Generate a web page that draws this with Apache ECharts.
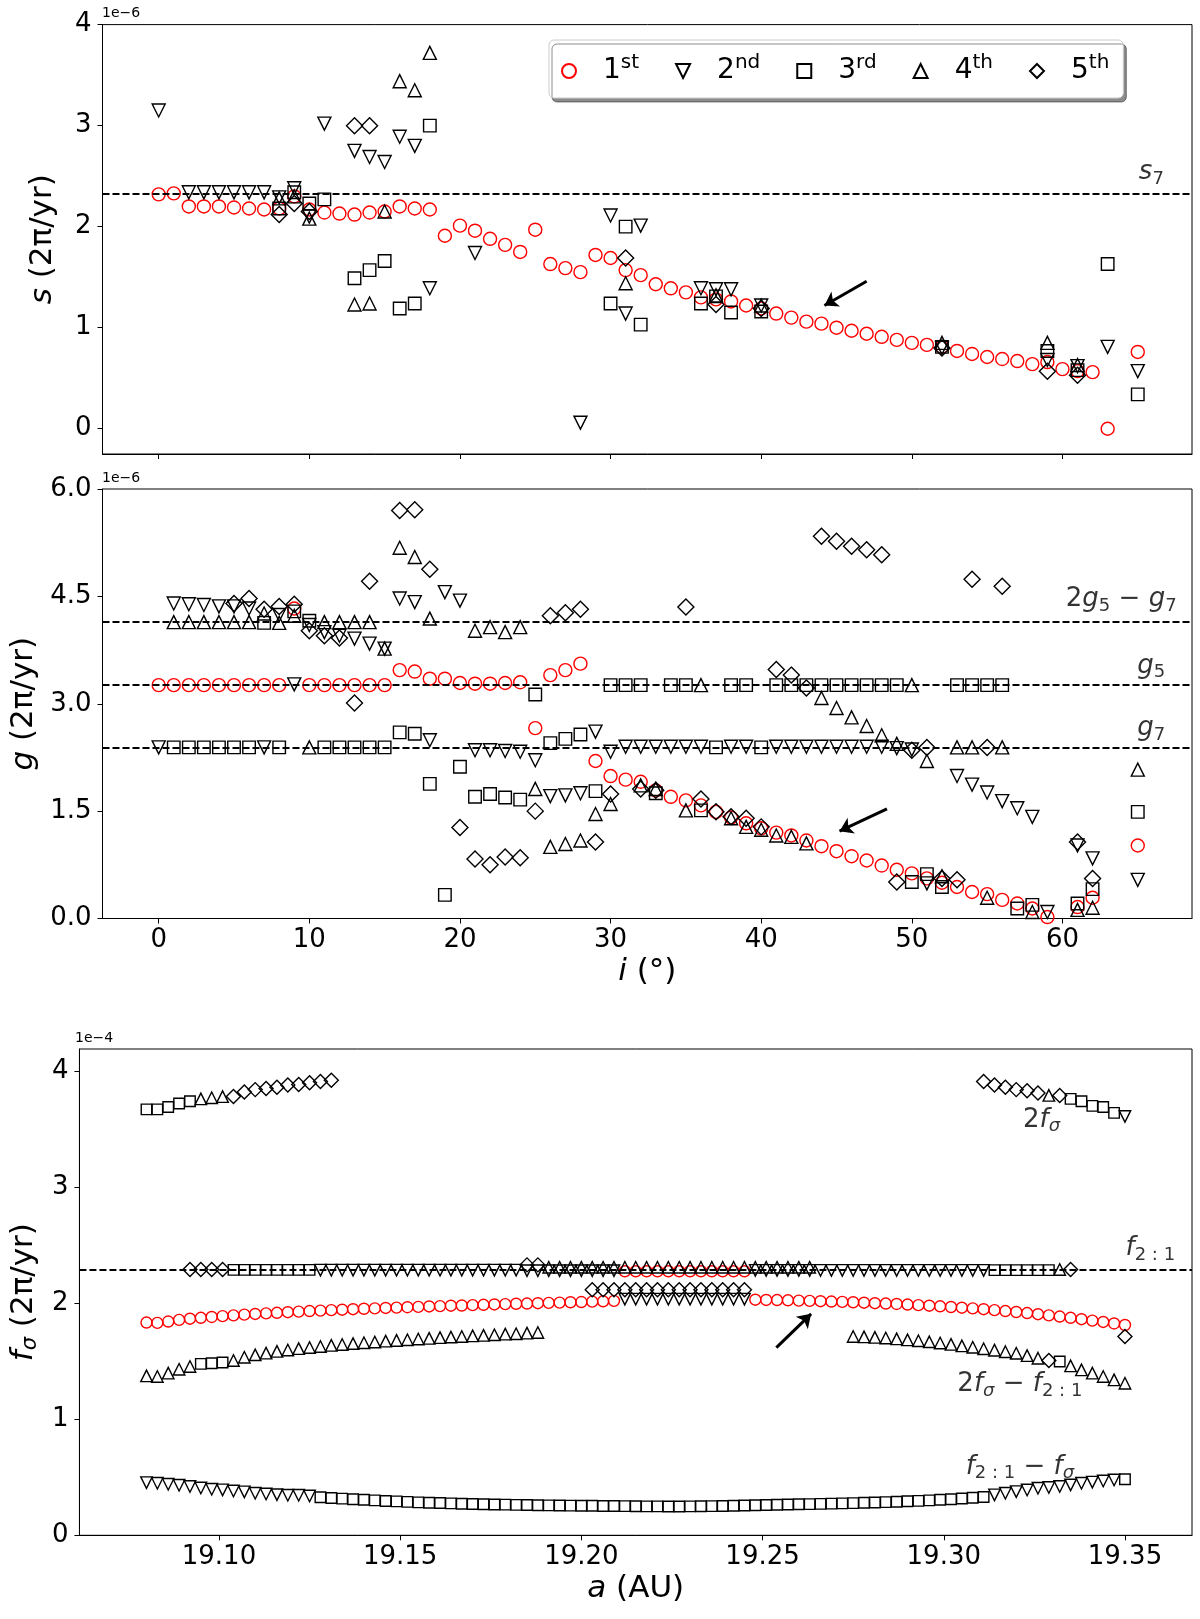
<!DOCTYPE html>
<html>
<head>
<meta charset="utf-8">
<script src="https://cdn.jsdelivr.net/npm/echarts@6.0.0/dist/echarts.min.js"></script>
<style>
  html, body { margin: 0; padding: 0; background: #fff; }
  #main { width: 1200px; height: 1619px; }
</style>
</head>
<body>
<div id="main"></div>
<script>
// ---- data: s-frequencies (units 1e-6) vs inclination i (deg) ----
var s1 = [[0,2.32],[1,2.33],[2,2.20],[3,2.20],[4,2.20],[5,2.19],[6,2.18],[7,2.17],[8,2.18],[9,2.30],[10,2.17],[11,2.14],[12,2.13],[13,2.12],[14,2.14],[15,2.15],[16,2.20],[17,2.18],[18,2.17],[19,1.91],[20,2.01],[21,1.96],[22,1.88],[23,1.82],[24,1.75],[25,1.97],[26,1.63],[27,1.59],[28,1.55],[29,1.72],[30,1.69],[31,1.57],[32,1.52],[33,1.43],[34,1.39],[35,1.35],[36,1.30],[37,1.28],[38,1.26],[39,1.22],[40,1.19],[41,1.14],[42,1.10],[43,1.06],[44,1.04],[45,1.00],[46,0.97],[47,0.94],[48,0.91],[49,0.88],[50,0.85],[51,0.83],[52,0.81],[53,0.77],[54,0.74],[55,0.71],[56,0.69],[57,0.67],[58,0.64],[59,0.66],[60,0.59],[61,0.57],[62,0.56],[63,0.00],[65,0.76]];
var s2 = [[0,3.15],[2,2.34],[3,2.34],[4,2.34],[5,2.34],[6,2.34],[7,2.34],[8,2.29],[9,2.38],[10,2.10],[11,3.02],[13,2.75],[14,2.69],[15,2.64],[16,2.89],[17,2.80],[18,1.39],[21,1.74],[28,0.06],[30,2.11],[31,1.14],[32,2.01],[36,1.39],[37,1.38],[38,1.38],[40,1.22],[52,0.80],[59,0.68],[61,0.62],[63,0.81],[65,0.57]];
var s3 = [[8,2.18],[9,2.34],[10,2.23],[11,2.27],[13,1.49],[14,1.57],[15,1.66],[16,1.19],[17,1.24],[18,3.00],[30,1.24],[31,2.00],[32,1.03],[36,1.24],[37,1.31],[38,1.15],[40,1.16],[52,0.81],[59,0.77],[61,0.58],[63,1.63],[65,0.34]];
var s4 = [[8,2.28],[9,2.30],[10,2.08],[13,1.23],[14,1.24],[15,2.15],[16,3.44],[17,3.35],[18,3.72],[31,1.44],[37,1.32],[40,1.22],[52,0.85],[59,0.85],[61,0.63]];
var s5 = [[8,2.12],[9,2.23],[10,2.15],[13,3.00],[14,3.00],[31,1.69],[37,1.23],[40,1.19],[52,0.80],[59,0.57],[61,0.53]];

// ---- data: g-frequencies (units 1e-6) vs inclination i (deg) ----
var g1 = [[0,3.26],[1,3.26],[2,3.26],[3,3.26],[4,3.26],[5,3.26],[6,3.26],[7,3.26],[8,3.26],[9,4.33],[10,3.26],[11,3.26],[12,3.26],[13,3.26],[14,3.26],[15,3.26],[16,3.47],[17,3.45],[18,3.35],[19,3.35],[20,3.29],[21,3.28],[22,3.28],[23,3.29],[24,3.30],[25,2.66],[26,3.40],[27,3.47],[28,3.56],[29,2.20],[30,1.99],[31,1.94],[32,1.91],[33,1.79],[34,1.70],[35,1.65],[36,1.58],[37,1.49],[38,1.41],[39,1.33],[40,1.26],[41,1.20],[42,1.16],[43,1.09],[44,1.01],[45,0.94],[46,0.87],[47,0.81],[48,0.74],[49,0.68],[50,0.63],[51,0.56],[52,0.50],[53,0.44],[54,0.37],[55,0.34],[56,0.26],[57,0.21],[58,0.14],[59,0.02],[61,0.16],[62,0.29],[65,1.02]];
var g2 = [[0,2.39],[1,4.40],[2,4.39],[3,4.38],[4,4.36],[5,4.36],[6,4.33],[7,2.39],[8,4.24],[9,3.27],[10,4.10],[11,4.00],[12,3.95],[13,3.91],[14,3.84],[15,3.77],[16,4.47],[17,4.42],[18,2.49],[19,4.56],[20,4.44],[21,2.35],[22,2.35],[23,2.34],[24,2.33],[25,2.21],[26,1.71],[27,1.72],[28,1.75],[29,2.61],[30,2.33],[31,2.40],[32,2.40],[33,2.40],[34,2.40],[35,2.40],[36,2.40],[38,2.40],[39,2.40],[41,2.40],[42,2.40],[43,2.40],[44,2.40],[45,2.40],[46,2.40],[47,2.40],[48,2.40],[49,2.38],[50,2.36],[51,0.49],[53,1.99],[54,1.87],[55,1.76],[56,1.64],[57,1.54],[58,1.42],[59,0.09],[61,1.02],[62,0.84],[65,0.54]];
var g3 = [[1,2.39],[2,2.39],[3,2.39],[4,2.39],[5,2.39],[6,2.39],[7,4.13],[8,2.39],[9,4.29],[10,4.16],[11,2.39],[12,2.39],[13,2.39],[14,2.39],[15,2.39],[16,2.60],[17,2.58],[18,1.88],[19,0.33],[20,2.12],[21,1.70],[22,1.74],[23,1.69],[24,1.66],[25,3.13],[26,2.45],[27,2.51],[28,2.57],[29,1.78],[30,3.26],[31,3.26],[32,3.26],[33,1.75],[34,3.26],[35,3.26],[36,1.51],[37,2.39],[38,3.26],[39,3.26],[40,2.39],[41,3.26],[42,3.26],[43,3.26],[44,3.26],[45,3.26],[46,3.26],[47,3.26],[48,3.26],[49,3.26],[50,0.51],[51,0.62],[52,0.44],[53,3.26],[54,3.26],[55,3.26],[56,3.26],[57,0.14],[58,0.19],[61,0.21],[62,0.41],[65,1.49]];
var g4 = [[1,4.14],[2,4.14],[3,4.14],[4,4.14],[5,4.14],[6,4.14],[7,4.26],[8,4.13],[9,4.23],[10,2.39],[11,4.14],[12,4.14],[13,4.14],[14,4.14],[15,3.77],[16,5.18],[17,5.05],[18,4.19],[21,4.02],[22,4.07],[23,4.00],[24,4.07],[25,1.81],[26,1.00],[27,1.04],[28,1.09],[29,1.46],[30,1.60],[32,1.86],[33,1.81],[35,1.51],[36,3.26],[38,1.40],[39,1.28],[40,1.24],[41,1.16],[42,1.14],[43,1.05],[44,3.08],[45,2.94],[46,2.81],[47,2.69],[48,2.56],[49,2.44],[50,3.26],[51,2.20],[52,0.59],[53,2.39],[54,2.39],[55,0.29],[56,2.39],[58,0.09],[61,0.12],[62,0.15],[65,2.08]];
var g5 = [[5,4.40],[6,4.47],[7,4.32],[8,4.36],[9,4.39],[10,4.02],[11,3.95],[12,3.92],[13,3.01],[14,4.71],[16,5.70],[17,5.71],[18,4.88],[20,1.27],[21,0.83],[22,0.75],[23,0.86],[24,0.85],[25,1.50],[26,4.23],[27,4.27],[28,4.32],[29,1.07],[30,1.74],[32,1.81],[33,1.79],[35,4.35],[36,1.67],[37,1.49],[38,1.42],[39,1.40],[40,1.28],[41,3.48],[42,3.40],[43,3.22],[44,5.34],[45,5.27],[46,5.20],[47,5.15],[48,5.08],[49,0.51],[50,2.35],[51,2.39],[52,0.56],[53,0.54],[54,4.74],[55,2.39],[56,4.64],[61,1.07],[62,0.56]];

// ---- data: f_sigma frequencies (units 1e-4) vs semi-major axis a (AU) ----
var aGrid = [19.080,19.083,19.086,19.089,19.092,19.095,19.098,19.101,19.104,19.107,
  19.110,19.113,19.116,19.119,19.122,19.125,19.128,19.131,19.134,19.137,
  19.140,19.143,19.146,19.149,19.152,19.155,19.158,19.161,19.164,19.167,
  19.170,19.173,19.176,19.179,19.182,19.185,19.188,19.191,19.194,19.197,
  19.200,19.203,19.206,19.209,19.212,19.215,19.218,19.221,19.224,19.227,
  19.230,19.233,19.236,19.239,19.242,19.245,19.248,19.251,19.254,19.257,
  19.260,19.263,19.266,19.269,19.272,19.275,19.278,19.281,19.284,19.287,
  19.290,19.293,19.296,19.299,19.302,19.305,19.308,19.311,19.314,19.317,
  19.320,19.323,19.326,19.329,19.332,19.335,19.338,19.341,19.344,19.347,
  19.350];
var f1 = [1.833,1.830,1.842,1.856,1.866,1.874,1.881,1.888,1.895,1.901,
  1.907,1.912,1.917,1.922,1.927,1.932,1.936,1.940,1.944,1.948,
  1.952,1.955,1.959,1.962,1.965,1.968,1.972,1.975,1.978,1.980,
  1.983,1.986,1.989,1.992,1.995,1.997,2.000,2.003,2.005,2.008,
  2.010,2.013,2.016,2.020,2.275,2.275,2.275,2.275,2.275,2.275,
  2.275,2.275,2.275,2.275,2.275,2.275,2.030,2.028,2.027,2.025,
  2.022,2.020,2.017,2.014,2.011,2.008,2.004,2.000,1.997,1.993,
  1.988,1.983,1.978,1.973,1.967,1.961,1.955,1.948,1.940,1.932,
  1.924,1.915,1.905,1.895,1.885,1.874,1.862,1.850,1.838,1.825,
  1.812];
var f2 = [0.454,0.448,0.440,0.431,0.420,0.408,0.397,0.391,0.382,0.374,
  0.362,0.356,0.350,0.345,0.345,0.339,2.285,2.285,2.285,2.285,
  2.285,2.285,2.285,2.285,2.285,2.285,2.285,2.285,2.285,2.285,
  2.285,2.285,2.285,2.285,2.285,2.280,2.280,2.280,2.280,2.280,
  2.280,2.280,2.280,2.280,2.035,2.035,2.035,2.035,2.035,2.035,
  2.035,2.035,2.035,2.035,2.035,2.035,2.283,2.283,2.283,2.283,
  2.283,2.283,2.283,2.283,2.283,2.283,2.283,2.283,2.283,2.283,
  2.283,2.283,2.283,2.283,2.283,2.283,2.283,2.283,0.348,0.362,
  0.376,0.390,0.405,0.412,0.420,0.434,0.448,0.458,0.468,0.477,
  3.609];
var f3 = [3.67,3.67,3.69,3.72,3.74,1.477,1.483,1.489,2.287,2.287,
  2.287,2.287,2.287,2.287,2.287,2.287,0.328,0.322,0.316,0.311,
  0.306,0.301,0.296,0.292,0.288,0.284,0.281,0.278,0.275,0.272,
  0.270,0.268,0.266,0.264,0.262,0.261,0.259,0.258,0.257,0.256,
  0.255,0.254,0.253,0.252,0.251,0.250,0.249,0.249,0.248,0.248,
  0.249,0.250,0.251,0.253,0.255,0.257,0.259,0.261,0.263,0.265,
  0.267,0.269,0.271,0.273,0.275,0.277,0.280,0.283,0.286,0.289,
  0.293,0.297,0.301,0.306,0.311,0.317,0.323,0.330,2.285,2.285,
  2.285,2.285,2.285,2.285,1.497,3.76,3.74,3.70,3.69,3.64,
  0.483];
var f4 = [1.374,1.368,1.397,1.431,1.454,3.76,3.77,3.78,1.506,1.534,
  1.555,1.570,1.585,1.597,1.608,1.618,1.627,1.636,1.644,1.652,
  1.659,1.666,1.673,1.679,1.685,1.691,1.697,1.703,1.708,1.713,
  1.718,1.723,1.728,1.733,1.737,1.742,1.747,2.31,2.31,2.31,
  2.31,2.31,2.31,2.31,2.31,2.31,2.31,2.31,2.31,2.31,
  2.31,2.31,2.31,2.31,2.31,2.31,2.31,2.31,2.31,2.31,
  2.31,2.31,null,null,null,1.713,1.710,1.705,1.700,1.692,
  1.684,1.676,1.667,1.657,1.645,1.632,1.620,1.607,1.595,1.582,
  1.569,1.548,1.526,3.79,2.29,1.460,1.425,1.397,1.368,1.339,
  1.310];
var f5 = [null,null,null,null,2.29,2.29,2.29,2.29,3.78,3.82,
  3.84,3.85,3.86,3.88,3.885,3.90,3.91,3.92,null,null,
  null,null,null,null,null,null,null,null,null,null,
  null,null,null,null,null,2.33,2.33,null,null,null,
  null,2.115,2.115,2.115,2.115,2.115,2.115,2.115,2.115,2.115,
  2.115,2.115,2.115,2.115,2.115,2.115,null,null,null,null,
  null,null,null,null,null,null,null,null,null,null,
  null,null,null,null,null,null,null,3.91,3.88,3.86,
  3.84,3.83,3.81,1.506,3.79,2.29,null,null,null,null,
  1.713];

// reference frequencies
var sRef = [2.33];               // s7
var gRef = [4.14, 3.256, 2.386]; // 2g5-g7, g5, g7
var fRef = [2.287];              // f2:1

// tick labels
var iTicks = [0, 10, 20, 30, 40, 50, 60];
var sTicks = [0, 1, 2, 3, 4];
var gTicks = [0, 1.5, 3, 4.5, 6];
var aTicks = [19.10, 19.15, 19.20, 19.25, 19.30, 19.35];
var fTicks = [0, 1, 2, 3, 4];

var orders = ['1st', '2nd', '3rd', '4th', '5th'];

var FONT = 'DejaVu Sans';
var downTri = 'path://M0,0L2,0L1,2Z';

function pairs(vals) {
  var out = [];
  for (var k = 0; k < aGrid.length; k++) {
    if (vals[k] !== null) out.push([aGrid[k], vals[k]]);
  }
  return out;
}

function marker(name, data, gi, big) {
  var shape, size, color = '#000';
  if (name === '1st') { shape = 'circle'; size = big ? 13 : 11; color = '#ff0000'; }
  else if (name === '2nd') { shape = downTri; size = big ? 13 : 11.5; }
  else if (name === '3rd') { shape = 'rect'; size = big ? 12.5 : 10.5; }
  else if (name === '4th') { shape = 'triangle'; size = big ? 13 : 11.5; }
  else { shape = 'diamond'; size = big ? 16 : 14; }
  return {
    name: name, type: 'scatter', xAxisIndex: gi, yAxisIndex: gi,
    data: data, symbol: shape, symbolSize: size,
    itemStyle: { color: 'rgba(0,0,0,0)', borderColor: color, borderWidth: 1.4, opacity: 1 },
    emphasis: { disabled: true }
  };
}

var rich = {
  n: { fontFamily: FONT, fontSize: 26, color: '#000' },
  i: { fontFamily: FONT, fontSize: 26, fontStyle: 'italic', color: '#000' },
  b: { fontFamily: FONT, fontSize: 18, color: '#000', padding: [14, 0, 0, 0] },
  bi: { fontFamily: FONT, fontSize: 18, fontStyle: 'italic', color: '#000', padding: [14, 0, 0, 0] }
};

// text labels and arrows drawn at data coordinates
function notes(gi, items, arrow) {
  return {
    type: 'scatter', xAxisIndex: gi, yAxisIndex: gi, silent: true,
    symbolSize: 1, itemStyle: { color: 'rgba(0,0,0,0)', borderWidth: 0 },
    label: { show: true, position: 'inside', rich: rich },
    data: items.map(function (t) {
      return { value: t.at, label: { show: true, position: 'inside', formatter: t.text, rich: rich } };
    }),
    markLine: {
      silent: true, symbol: ['none', 'arrow'], symbolSize: 13,
      label: { show: false },
      lineStyle: { color: '#000', width: 3, type: 'solid' },
      data: [[{ coord: arrow[0] }, { coord: arrow[1] }]]
    },
    z: 5
  };
}

function refLines(vals) {
  return {
    silent: true, symbol: 'none', label: { show: false },
    lineStyle: { color: '#000', width: 2, type: [7, 3] },
    data: vals.map(function (v) { return { yAxis: v }; })
  };
}

var series = [];
var sSets = [s1, s2, s3, s4, s5];
var gSets = [g1, g2, g3, g4, g5];
var fSets = [f1, f2, f3, f4, f5];
orders.forEach(function (o, j) {
  var a = marker(o, sSets[j], 0, true);
  var b = marker(o, gSets[j], 1, true);
  var c = marker(o, pairs(fSets[j]), 2, false);
  if (j === 0) { a.markLine = refLines(sRef); b.markLine = refLines(gRef); c.markLine = refLines(fRef); }
  series.push(a, b, c);
});

series.push(notes(0, [{ at: [65.9, 2.54], text: '{i|s}{b|7}' }], [[47.0, 1.46], [44.2, 1.22]]));
series.push(notes(1, [
  { at: [63.9, 4.46], text: '{n|2}{i|g}{b|5}{n| − }{i|g}{b|7}' },
  { at: [65.9, 3.53], text: '{i|g}{b|5}' },
  { at: [65.9, 2.66], text: '{i|g}{b|7}' }
], [[48.35, 1.53], [45.2, 1.22]]));
series.push(notes(2, [
  { at: [19.327, 3.58], text: '{n|2}{i|f}{bi|σ}' },
  { at: [19.357, 2.47], text: '{i|f}{b|2 : 1}' },
  { at: [19.321, 1.30], text: '{n|2}{i|f}{bi|σ}{n| − }{i|f}{b|2 : 1}' },
  { at: [19.321, 0.59], text: '{i|f}{b|2 : 1}{n| − }{i|f}{bi|σ}' }
], [[19.2538, 1.617], [19.2634, 1.908]]));

function xAx(gi, min, max, ticks, showLabels, fmt) {
  return {
    type: 'value', gridIndex: gi, min: min, max: max,
    axisLine: { show: true, onZero: false, lineStyle: { color: '#000', width: 1 } },
    axisTick: { show: true, length: 5, customValues: ticks, lineStyle: { color: '#000' } },
    axisLabel: { show: showLabels, customValues: ticks, margin: 9, color: '#000', fontFamily: FONT, fontSize: 26, formatter: fmt },
    splitLine: { show: false }
  };
}
function yAx(gi, min, max, ticks, fmt, name, gap) {
  return {
    type: 'value', gridIndex: gi, min: min, max: max,
    name: name, nameLocation: 'middle', nameGap: gap,
    nameTextStyle: { fontFamily: FONT, fontSize: 31, color: '#000',
      rich: { it: { fontFamily: FONT, fontSize: 31, fontStyle: 'italic', color: '#000' },
              sb: { fontFamily: FONT, fontSize: 21, fontStyle: 'italic', color: '#000', padding: [14, 0, 0, 0] } } },
    axisLine: { show: true, onZero: false, lineStyle: { color: '#000', width: 1 } },
    axisTick: { show: true, length: 5, customValues: ticks, lineStyle: { color: '#000' } },
    axisLabel: { customValues: ticks, margin: 11, color: '#000', fontFamily: FONT, fontSize: 26, formatter: fmt },
    splitLine: { show: false }
  };
}

var option = {
  animation: false,
  backgroundColor: '#fff',
  grid: [
    { left: 102.5, top: 24.6, width: 1089.5, height: 429.4, show: true, borderColor: '#000', borderWidth: 1 },
    { left: 102.5, top: 489, width: 1089.5, height: 429.5, show: true, borderColor: '#000', borderWidth: 1 },
    { left: 75, top: 1049, width: 1117, height: 486.3, show: true, borderColor: '#000', borderWidth: 1 }
  ],
  xAxis: [
    xAx(0, -3.73, 68.6, iTicks, false),
    Object.assign(xAx(1, -3.73, 68.6, iTicks, true, function (v) { return String(Math.round(v)); }), {
      name: '{it|i} (°)', nameLocation: 'middle', nameGap: 38,
      nameTextStyle: { fontFamily: FONT, fontSize: 31, color: '#000', rich: { it: { fontFamily: FONT, fontSize: 31, fontStyle: 'italic', color: '#000' } } }
    }),
    Object.assign(xAx(2, 19.0615, 19.3685, aTicks, true, function (v) { return v.toFixed(2); }), {
      name: '{it|a} (AU)', nameLocation: 'middle', nameGap: 38,
      nameTextStyle: { fontFamily: FONT, fontSize: 31, color: '#000', rich: { it: { fontFamily: FONT, fontSize: 31, fontStyle: 'italic', color: '#000' } } }
    })
  ],
  yAxis: [
    yAx(0, -0.25, 4, sTicks, function (v) { return String(Math.round(v)); }, '{it|s} (2π/yr)', 44),
    yAx(1, 0, 6, gTicks, function (v) { return v.toFixed(1); }, '{it|g} (2π/yr)', 44),
    yAx(2, 0, 4.19, fTicks, function (v) { return String(Math.round(v)); }, '{it|f}{sb|σ} (2π/yr)', 33)
  ],
  legend: {
    data: orders,
    left: 549, top: 40,
    orient: 'horizontal',
    padding: [13, 14, 13, 12],
    itemGap: 36, itemWidth: 14, itemHeight: 14,
    backgroundColor: '#fff', borderColor: '#cccccc', borderWidth: 1, borderRadius: 5,
    shadowColor: 'rgba(0,0,0,0.45)', shadowBlur: 0, shadowOffsetX: 3, shadowOffsetY: 4,
    formatter: function (name) { return '{n|' + name.charAt(0) + '}{s|' + name.slice(1) + '}'; },
    textStyle: {
      padding: [0, 0, 0, 22],
      rich: {
        n: { fontFamily: FONT, fontSize: 28, color: '#000' },
        s: { fontFamily: FONT, fontSize: 20, color: '#000', padding: [0, 0, 16, 0] }
      }
    }
  },
  graphic: [
    { type: 'text', left: 102, top: 6, style: { text: '1e−6', font: '14px "DejaVu Sans"', fill: '#000' } },
    { type: 'text', left: 102, top: 471, style: { text: '1e−6', font: '14px "DejaVu Sans"', fill: '#000' } },
    { type: 'text', left: 75, top: 1031, style: { text: '1e−4', font: '14px "DejaVu Sans"', fill: '#000' } }
  ],
  series: series
};

var chart = echarts.init(document.getElementById('main'), null, { renderer: 'canvas' });
chart.setOption(option);
</script>
</body>
</html>
